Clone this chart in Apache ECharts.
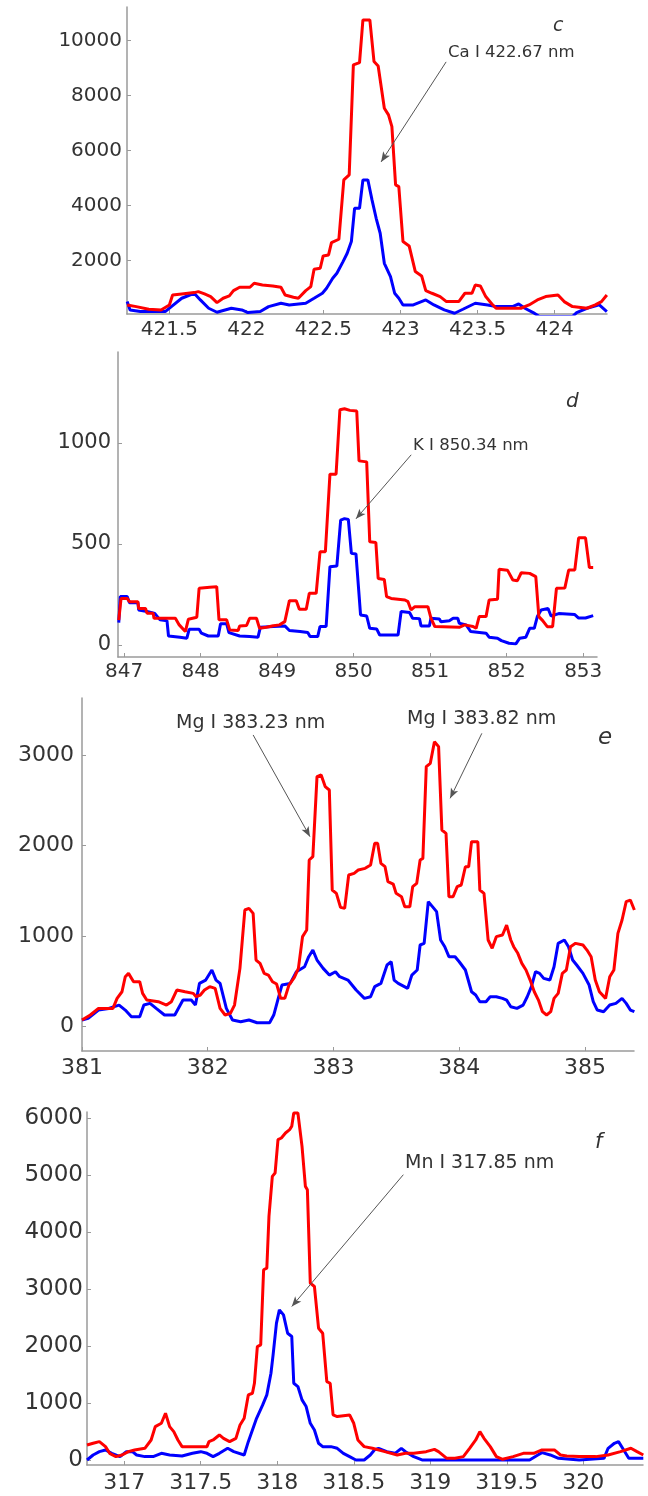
<!DOCTYPE html>
<html>
<head>
<meta charset="utf-8">
<script src="https://cdn.jsdelivr.net/npm/echarts@6/dist/echarts.min.js"></script>
<style>
html,body{margin:0;padding:0;background:#fff;}
#chart{width:648px;height:1496px;}
</style>
</head>
<body>
<div id="chart"></div>
<script>
// ---------- Panel c : Ca I 422.67 nm ----------
const cRedX = [421.226,421.285,421.366,421.446,421.500,421.521,421.580,421.661,421.688,421.728,421.768,421.809,421.849,421.889,421.916,421.956,422.023,422.050,422.104,422.171,422.224,422.251,422.305,422.337,422.385,422.418,422.439,422.479,422.498,422.533,422.552,422.600,422.632,422.667,422.694,422.734,422.756,422.801,422.828,422.855,422.895,422.922,422.944,422.968,422.989,423.016,423.056,423.096,423.137,423.164,423.204,423.257,423.298,423.378,423.418,423.464,423.485,423.518,423.553,423.593,423.620,423.781,423.834,423.888,423.942,424.022,424.062,424.116,424.210,424.264,424.304,424.339];
const cRedY = [390,329,232,208,390,753,789,838,874,789,693,474,632,717,911,1032,1032,1177,1117,1081,1032,753,668,632,911,1057,1687,1723,2171,2207,2655,2777,4934,5116,9115,9200,10751,10751,9236,9078,7539,7297,6873,4752,4691,2692,2534,1601,1443,910,814,693,511,511,814,814,1117,1081,693,426,269,269,390,572,693,753,511,329,269,390,511,753];
const cBlueX = [421.226,421.245,421.312,421.473,421.513,421.580,421.661,421.701,421.755,421.809,421.902,421.970,422.010,422.090,422.144,422.224,422.278,422.385,422.439,422.493,422.520,422.560,422.587,422.627,422.654,422.681,422.702,422.734,422.756,422.788,422.815,422.842,422.868,422.895,422.935,422.962,422.989,423.016,423.083,423.164,423.217,423.284,423.351,423.405,423.485,423.566,423.620,423.727,423.767,423.807,423.861,423.901,424.116,424.143,424.210,424.290,424.339];
const cBlueY = [511,208,148,148,329,632,814,572,269,124,269,208,111,148,329,451,390,451,632,814,995,1359,1541,1965,2268,2692,3904,3904,4934,4934,4207,3540,2995,1904,1419,814,632,390,390,572,390,208,87,232,451,390,329,329,426,269,111,-30,-30,111,269,390,148];
const cXTicks = [421.5,422,422.5,423,423.5,424];
const cYTicks = [2000,4000,6000,8000,10000];

// ---------- Panel d : K I 850.34 nm ----------
const dRedX = [846.93,846.96,847.04,847.07,847.18,847.19,847.28,847.30,847.38,847.39,847.67,847.72,847.80,847.82,847.84,847.95,847.98,848.12,848.21,848.24,848.34,848.38,848.49,848.51,848.60,848.64,848.73,848.77,848.86,848.95,849.03,849.10,849.16,849.25,849.29,849.38,849.42,849.51,849.56,849.63,849.69,849.77,849.82,849.88,849.95,850.04,850.07,850.17,850.21,850.29,850.32,850.40,850.43,850.49,850.51,850.67,850.71,850.75,850.80,850.97,851.01,851.06,851.38,851.45,851.56,851.60,851.64,851.73,851.77,851.88,851.90,852.01,852.08,852.14,852.19,852.30,852.38,852.42,852.47,852.53,852.60,852.65,852.76,852.81,852.89,852.94,853.03,853.08,853.13];
const dRedY = [123,230,230,214,214,180,180,156,156,132,132,99,66,66,127,137,280,285,288,124,124,74,71,94,96,132,132,82,87,95,99,115,219,219,176,176,255,255,461,461,845,845,1164,1169,1161,1158,911,906,510,507,329,324,239,230,226,222,214,173,189,189,132,91,87,99,91,82,140,140,222,226,374,370,321,318,357,354,338,140,120,90,90,280,282,371,371,530,530,383,383];
const dBlueX = [846.93,846.95,847.04,847.07,847.18,847.19,847.30,847.40,847.47,847.56,847.58,847.73,847.82,847.85,847.98,848.01,848.10,848.23,848.26,848.34,848.37,848.51,848.64,848.75,848.78,848.95,849.10,849.16,849.30,849.40,849.43,849.53,849.56,849.64,849.69,849.78,849.83,849.88,849.93,849.97,850.03,850.09,850.17,850.21,850.30,850.34,850.58,850.62,850.73,850.77,850.86,850.88,850.99,851.01,851.12,851.14,851.25,851.30,851.36,851.38,851.47,851.53,851.73,851.77,851.88,851.93,852.03,852.12,852.17,852.25,852.30,852.36,852.40,852.45,852.54,852.58,852.68,852.89,852.94,853.03,853.13];
const dBlueY = [110,239,239,209,209,173,165,156,124,120,44,38,33,77,77,58,44,44,104,104,61,44,41,38,87,91,94,71,66,61,41,41,91,91,387,390,618,625,621,453,450,148,143,82,79,49,49,165,160,132,130,94,94,132,128,115,120,132,132,107,99,66,58,38,33,21,8,5,33,38,82,82,140,173,180,143,155,150,133,133,145];
const dXTicks = [847,848,849,850,851,852,853];
const dYTicks = [0,500,1000];

// ---------- Panel e : Mg I 383.23 / 383.82 nm ----------
const eRedX = [381.000,381.066,381.131,381.246,381.279,381.318,381.344,381.370,381.410,381.459,381.482,381.515,381.607,381.672,381.711,381.754,381.820,381.885,381.908,381.941,381.974,382.016,382.059,382.098,382.138,382.180,382.213,382.256,382.295,382.328,382.361,382.384,382.416,382.449,382.482,382.515,382.548,382.580,382.613,382.646,382.689,382.721,382.754,382.787,382.807,382.836,382.869,382.902,382.934,382.967,382.990,383.023,383.056,383.089,383.121,383.164,383.197,383.252,383.295,383.328,383.351,383.377,383.410,383.433,383.475,383.498,383.541,383.567,383.607,383.630,383.662,383.689,383.711,383.738,383.770,383.803,383.836,383.862,383.895,383.918,383.951,383.984,384.016,384.049,384.075,384.098,384.148,384.164,384.197,384.230,384.262,384.295,384.344,384.377,384.410,384.433,384.466,384.498,384.531,384.564,384.597,384.630,384.662,384.695,384.728,384.754,384.787,384.820,384.852,384.885,384.925,384.984,385.016,385.049,385.082,385.115,385.164,385.197,385.230,385.262,385.295,385.328,385.361,385.393];
const eRedY = [74,129,202,202,313,386,552,589,497,497,368,294,276,239,276,405,386,368,331,350,405,442,423,202,129,147,239,644,1288,1306,1251,736,699,589,570,497,471,313,313,460,545,644,994,1067,1840,1877,2760,2778,2650,2613,1509,1472,1317,1306,1674,1693,1730,1748,1785,2024,2024,1803,1766,1601,1575,1472,1435,1325,1325,1546,1582,1840,1858,2870,2907,3146,3091,2171,2134,1435,1435,1546,1564,1766,1766,2042,2042,1509,1472,957,865,994,1012,1122,957,883,810,699,626,515,386,294,166,129,166,313,368,589,626,883,920,902,846,773,515,386,313,552,626,1030,1178,1380,1398,1288];
const eBlueX = [381.000,381.049,381.131,381.213,381.295,381.344,381.393,381.459,381.492,381.541,381.590,381.656,381.738,381.803,381.869,381.902,381.934,381.984,382.033,382.066,382.098,382.148,382.197,382.262,382.328,382.393,382.492,382.525,382.557,382.590,382.656,382.705,382.770,382.803,382.836,382.869,382.918,382.967,383.016,383.049,383.115,383.180,383.246,383.295,383.328,383.377,383.426,383.459,383.482,383.515,383.590,383.623,383.666,383.689,383.721,383.754,383.787,383.820,383.852,383.885,383.918,383.967,384.000,384.049,384.098,384.131,384.164,384.213,384.246,384.295,384.344,384.377,384.410,384.459,384.508,384.541,384.574,384.607,384.639,384.672,384.721,384.754,384.787,384.836,384.869,384.902,384.934,384.984,385.033,385.066,385.098,385.148,385.197,385.246,385.295,385.328,385.361,385.393];
const eBlueY = [74,92,184,202,239,184,110,110,239,258,202,129,129,294,294,239,478,515,626,515,478,202,74,55,74,44,44,129,294,460,478,607,662,773,846,736,644,570,607,552,515,405,313,331,442,478,681,717,515,478,423,570,626,902,920,1380,1325,1270,957,883,773,773,717,626,386,350,276,276,331,331,313,294,221,202,239,331,442,607,589,533,515,662,920,957,883,736,681,589,460,276,184,166,239,258,313,258,184,166];
const eXTicks = [381,382,383,384,385];
const eYTicks = [0,1000,2000,3000];

// ---------- Panel f : Mn I 317.85 nm ----------
const fRedX = [316.757,316.797,316.838,316.878,316.905,316.946,316.986,317.027,317.068,317.135,317.176,317.203,317.243,317.270,317.297,317.324,317.351,317.378,317.541,317.554,317.581,317.622,317.649,317.689,317.730,317.757,317.784,317.811,317.838,317.851,317.870,317.892,317.911,317.932,317.946,317.968,317.986,318.005,318.027,318.054,318.081,318.095,318.108,318.135,318.162,318.184,318.197,318.216,318.243,318.270,318.297,318.324,318.346,318.365,318.392,318.473,318.500,318.527,318.568,318.622,318.703,318.784,318.838,318.892,318.973,319.027,319.054,319.108,319.162,319.216,319.257,319.297,319.324,319.351,319.392,319.432,319.473,319.541,319.608,319.676,319.730,319.811,319.851,319.892,319.973,320.081,320.162,320.243,320.311,320.351,320.392];
const fRedY = [263,293,322,234,117,59,88,146,176,205,351,585,644,820,585,498,351,234,234,322,351,439,380,322,380,615,732,1142,1171,1346,1990,2020,3337,3366,4273,4976,5034,5620,5649,5737,5795,5854,6088,6088,5503,4800,4742,3102,3044,2312,2224,1376,1346,790,761,790,644,351,234,205,146,88,117,117,146,187,146,29,29,59,205,351,498,380,234,59,12,59,117,117,176,176,88,70,59,59,88,146,205,146,88];
const fBlueX = [316.757,316.797,316.838,316.878,316.919,316.973,317.014,317.054,317.081,317.135,317.189,317.243,317.297,317.378,317.446,317.500,317.541,317.581,317.622,317.676,317.716,317.784,317.811,317.865,317.905,317.932,317.959,317.973,317.995,318.014,318.041,318.068,318.095,318.108,318.135,318.162,318.189,318.216,318.243,318.270,318.297,318.351,318.392,318.432,318.473,318.514,318.568,318.608,318.635,318.662,318.716,318.770,318.811,318.838,318.892,318.946,319.649,319.703,319.730,319.784,319.838,319.973,320.135,320.162,320.203,320.230,320.257,320.297,320.392];
const fBlueY = [0,88,146,176,117,59,146,146,88,59,59,117,88,70,117,146,117,59,117,205,146,88,322,732,966,1142,1522,1844,2400,2634,2546,2224,2166,1346,1288,1054,937,644,527,293,234,234,205,117,59,0,0,88,176,205,146,117,205,146,59,0,0,88,129,88,29,0,29,205,293,322,205,29,29];
const fXTicks = [317,317.5,318,318.5,319,319.5,320];
const fYTicks = [0,1000,2000,3000,4000,5000,6000];

// ---------- build ----------
function zip(xs, ys){ return xs.map((x,i)=>[x, ys[i]]); }

const AX = '#9a9a9a';
const LBL = '#333333';
const FONT = '"DejaVu Sans", sans-serif';

const panels = [
  {grid:{left:127, top:7, width:480, height:307}, x:[421.225,424.34], y:[60,11220], xt:cXTicks, yt:cYTicks,
   xf:20, yf:20, xm:6, ym:5,
   red:zip(cRedX,cRedY), blue:zip(cBlueX,cBlueY),
   arrows:[[[423.296,9225],[422.874,5589]]]},
  {grid:{left:118, top:352, width:479, height:305}, x:[846.92,853.18], y:[-60,1450], xt:dXTicks, yt:dYTicks,
   xf:20, yf:21, xm:5, ym:7,
   red:zip(dRedX,dRedY), blue:zip(dBlueX,dBlueY),
   arrows:[[[850.752,941],[850.03,624]]]},
  {grid:{left:82, top:698, width:552, height:353}, x:[381,385.39], y:[-268,3628], xt:eXTicks, yt:eYTicks,
   xf:22, yf:22, xm:6, ym:8,
   red:zip(eRedX,eRedY), blue:zip(eBlueX,eBlueY),
   arrows:[[[382.361,3220],[382.813,2098]], [[384.180,3238],[383.928,2521]]]},
  {grid:{left:87, top:1112, width:556, height:353}, x:[316.757,320.39], y:[-88,6105], xt:fXTicks, yt:fYTicks,
   xf:22, yf:23, xm:7, ym:4,
   red:zip(fRedX,fRedY), blue:zip(fBlueX,fBlueY),
   arrows:[[[318.824,5005],[318.095,2693]]]}
];

const fmt = v => String(v);
const grids=[], xAxes=[], yAxes=[], series=[];
panels.forEach((p,i)=>{
  grids.push(Object.assign({containLabel:false}, p.grid));
  xAxes.push({type:'value', gridIndex:i, min:p.x[0], max:p.x[1],
    axisLine:{show:true, onZero:false, lineStyle:{color:AX, width:1.5}},
    axisTick:{show:true, inside:true, length:4, customValues:p.xt, lineStyle:{color:AX}},
    axisLabel:{customValues:p.xt, formatter:fmt, color:LBL, fontSize:p.xf, fontFamily:FONT, margin:p.xm},
    splitLine:{show:false}});
  yAxes.push({type:'value', gridIndex:i, min:p.y[0], max:p.y[1],
    axisLine:{show:true, onZero:false, lineStyle:{color:AX, width:1.5}},
    axisTick:{show:true, inside:true, length:4, customValues:p.yt, lineStyle:{color:AX}},
    axisLabel:{customValues:p.yt, formatter:fmt, color:LBL, fontSize:p.yf, fontFamily:FONT, margin:p.ym},
    splitLine:{show:false}});
  series.push({type:'line', xAxisIndex:i, yAxisIndex:i, data:p.blue, showSymbol:false, symbol:'none',
    lineStyle:{color:'#0000ff', width:3}, itemStyle:{color:'#0000ff'}, clip:true, silent:true});
  series.push({type:'line', xAxisIndex:i, yAxisIndex:i, data:p.red, showSymbol:false, symbol:'none',
    lineStyle:{color:'#ff0000', width:3}, itemStyle:{color:'#ff0000'}, clip:true, silent:true,
    markLine:{silent:true, symbol:['none','arrow'], symbolSize:[6,10], animation:false,
      label:{show:false}, lineStyle:{color:'#555', width:1, type:'solid'},
      data:p.arrows.map(a=>[{coord:a[0]},{coord:a[1]}])}});
});

function txt(x,y,s,size,italic){
  return {type:'text', x:x, y:y, silent:true,
    style:{text:s, fill:'#333', font:(italic?'italic ':'')+size+'px "DejaVu Sans", sans-serif', verticalAlign:'middle'}};
}

const chart = echarts.init(document.getElementById('chart'), null, {renderer:'canvas'});
chart.setOption({
  animation:false,
  backgroundColor:'#fff',
  grid:grids, xAxis:xAxes, yAxis:yAxes, series:series,
  graphic:[
    txt(448,53,'Ca I 422.67 nm',16.5,false),
    txt(553,26,'c',19,true),
    txt(413,446,'K I 850.34 nm',16.5,false),
    txt(566,402,'d',20,true),
    txt(176,723,'Mg I 383.23 nm',19,false),
    txt(407,719,'Mg I 383.82 nm',19,false),
    txt(598,738,'e',23,true),
    txt(405,1163,'Mn I 317.85 nm',19,false),
    txt(595,1143,'f',21,true)
  ]
});
</script>
</body>
</html>
